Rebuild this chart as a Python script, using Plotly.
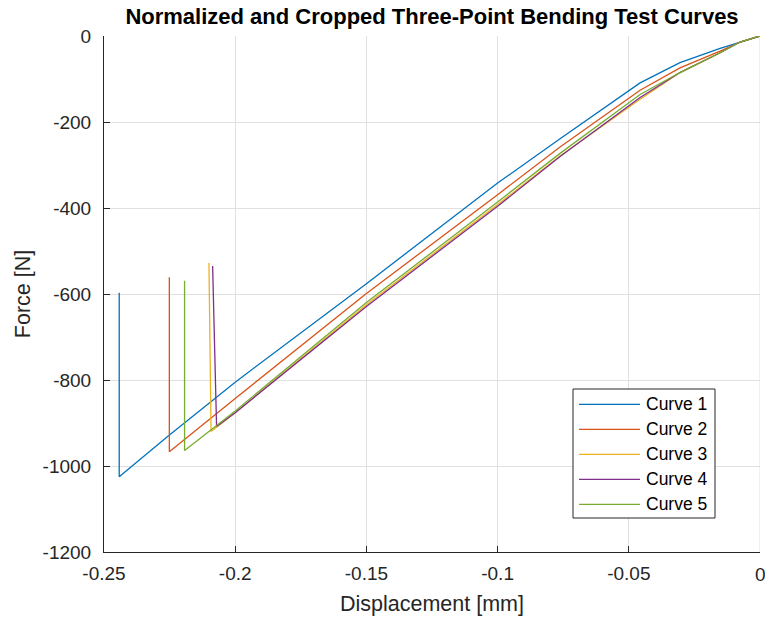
import plotly.graph_objects as go

# Displacement [mm] and Force [N]
curve1_x = [0, -0.0076, -0.0152, -0.0305, -0.0457, -0.0762, -0.1, -0.15, -0.2, -0.2253, -0.2442, -0.2442]
curve1_y = [0, -14, -29, -62, -109, -239, -342, -576, -805, -929, -1025, -597]

curve2_x = [0, -0.0076, -0.0152, -0.0305, -0.0457, -0.0762, -0.1, -0.15, -0.2, -0.2251, -0.2251]
curve2_y = [0, -14, -35, -74, -126, -258, -369, -599, -843, -967, -561]

curve3_x = [0, -0.0076, -0.0152, -0.0305, -0.0457, -0.0762, -0.1, -0.15, -0.2, -0.2092, -0.2100]
curve3_y = [0, -14, -39, -85, -147, -279, -392, -625, -876, -920, -528]

curve4_x = [0, -0.0076, -0.0152, -0.0305, -0.0457, -0.0762, -0.1, -0.15, -0.2, -0.2071, -0.2086]
curve4_y = [0, -14, -39, -85, -143, -280, -396, -629, -876, -908, -535]

curve5_x = [0, -0.0076, -0.0152, -0.0305, -0.0457, -0.0762, -0.1, -0.15, -0.2, -0.2193, -0.2193]
curve5_y = [0, -14, -39, -85, -136, -273, -386, -620, -872, -964, -569]

names = ["Curve 1", "Curve 2", "Curve 3", "Curve 4", "Curve 5"]
colors = ["#0072BD", "#D95319", "#EDB120", "#7E2F8E", "#77AC30"]
xs = [curve1_x, curve2_x, curve3_x, curve4_x, curve5_x]
ys = [curve1_y, curve2_y, curve3_y, curve4_y, curve5_y]

x_ticks = [-0.25, -0.2, -0.15, -0.1, -0.05, 0]
x_ticklabels = ["-0.25", "-0.2", "-0.15", "-0.1", "-0.05", "0"]
y_ticks = [-1200, -1000, -800, -600, -400, -200, 0]
y_ticklabels = ["-1200", "-1000", "-800", "-600", "-400", "-200", "0"]

# plot-area geometry in pixels (for converting legend layout to paper coords)
W, H = 765, 622
L, R, T, B = 104, 760, 36, 552
PW, PH = R - L, B - T


def px(xp):
    return (xp - L) / PW


def py(yp):
    return (B - yp) / PH


fig = go.Figure()
for i in range(5):
    fig.add_trace(go.Scatter(x=xs[i], y=ys[i], mode="lines", name=names[i],
                             showlegend=False,
                             line=dict(color=colors[i], width=1.3)))

axis_col = "#262626"
font_fam = "Liberation Sans, Arial, Helvetica, sans-serif"

# legend drawn as box + line samples + text
shapes = [dict(type="rect", xref="paper", yref="paper",
               x0=px(573), x1=px(715), y0=py(518), y1=py(389),
               line=dict(color=axis_col, width=1), fillcolor="white", layer="above")]
annotations = []
for i in range(5):
    yc = 404.3 + 25 * i
    shapes.append(dict(type="line", xref="paper", yref="paper",
                       x0=px(579), x1=px(640), y0=py(yc), y1=py(yc),
                       line=dict(color=colors[i], width=1.3), layer="above"))
    annotations.append(dict(xref="paper", yref="paper", x=px(644), y=py(yc),
                            xanchor="left", yanchor="middle", showarrow=False,
                            text=names[i], font=dict(size=17.5, color="#000000", family=font_fam)))

# x-axis "0" label placed as text at the right end of the axis
annotations.append(dict(xref="x", yref="paper", x=0, y=0, yanchor="top", xanchor="center",
                        yshift=-10, showarrow=False, text=x_ticklabels[-1],
                        font=dict(size=19, color=axis_col, family=font_fam)))

fig.update_layout(
    width=W, height=H,
    margin=dict(l=L, r=W - R, t=T, b=H - B),
    paper_bgcolor="white", plot_bgcolor="white",
    font=dict(family=font_fam, size=19, color=axis_col),
    title=dict(text="<b>Normalized and Cropped Three-Point Bending Test Curves</b>",
               x=(L + R) / 2 / W, xanchor="center", y=1 - 16 / H, yanchor="middle",
               font=dict(size=22, color="#000000")),
    showlegend=False,
    shapes=shapes,
    annotations=annotations,
)
fig.update_xaxes(range=[-0.25, 0], tickvals=x_ticks[:-1], ticktext=x_ticklabels[:-1],
                 showgrid=True, gridcolor="#e0e0e0", gridwidth=1,
                 showline=True, linecolor=axis_col, linewidth=1, mirror=False,
                 ticks="inside", ticklen=6, tickcolor=axis_col, zeroline=False,
                 automargin=False, ticklabelstandoff=4,
                 title=dict(text="Displacement [mm]", font=dict(size=21.5), standoff=13),
                 tickfont=dict(size=19))
fig.update_yaxes(range=[-1200, 0], tickvals=y_ticks, ticktext=y_ticklabels,
                 showgrid=True, gridcolor="#e0e0e0", gridwidth=1,
                 showline=True, linecolor=axis_col, linewidth=1, mirror=False,
                 ticks="inside", ticklen=6, tickcolor=axis_col, zeroline=False,
                 automargin=False, ticklabelstandoff=8,
                 title=dict(text="Force [N]", font=dict(size=21.5), standoff=6),
                 tickfont=dict(size=19))

# grid line at the right edge (x = 0)
fig.add_shape(type="line", xref="x", yref="paper", x0=0, x1=0, y0=0, y1=1,
              line=dict(color="#e0e0e0", width=1), layer="below")

fig.write_html("out.html")
